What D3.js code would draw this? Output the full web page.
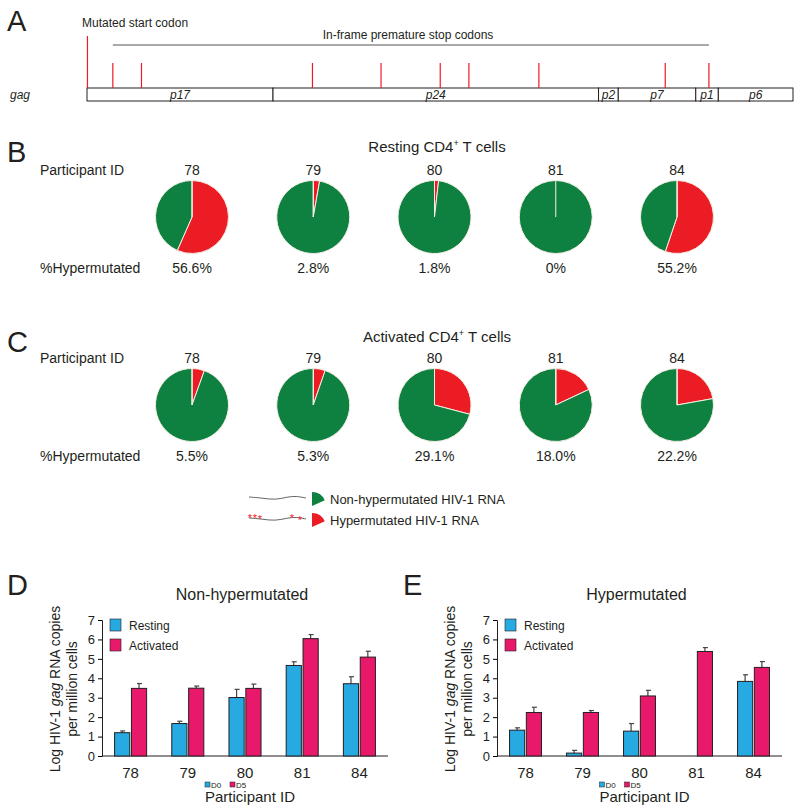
<!DOCTYPE html>
<html><head><meta charset="utf-8">
<script src="https://cdn.jsdelivr.net/npm/d3@7"></script>
<style>
body{margin:0;background:#fff}
text{font-family:"Liberation Sans",Arial,Helvetica,sans-serif;fill:#231f20}
</style>
</head><body><svg id="c" width="800" height="806"></svg>
<script>
// ---------- data ----------
const participants = ["78","79","80","81","84"];
const restingHyperPct = [56.6, 2.8, 1.8, 0, 55.2];
const activatedHyperPct = [5.5, 5.3, 29.1, 18.0, 22.2];
const gagProteins = ["p17","p24","p2","p7","p1","p6"];
const gagProteinEnds = [396, 1089, 1131, 1296, 1344, 1503];
const startCodonPos = [1];
const stopCodonPos = [55, 116, 480, 626, 752, 813, 962, 1231, 1324];
const nonHypRest = [1.2, 1.67, 3.01, 4.66, 3.72];
const nonHypRestErr = [0.09, 0.12, 0.42, 0.19, 0.36];
const nonHypAct = [3.48, 3.49, 3.48, 6.04, 5.09];
const nonHypActErr = [0.25, 0.11, 0.22, 0.21, 0.30];
const hypRest = [1.33, 0.15, 1.28, 0, 3.84];
const hypRestErr = [0.12, 0.14, 0.39, 0, 0.34];
const hypAct = [2.24, 2.24, 3.09, 5.38, 4.56];
const hypActErr = [0.27, 0.10, 0.29, 0.20, 0.30];
const yTicks = [0,1,2,3,4,5,6,7];
const barSeries = ["Resting","Activated"];

const GREEN = "#0e8040", RED = "#ec1c24", BLUE = "#27a9e1", PINK = "#e8196b";
const svg = d3.select("#c");

function letter(t, x, y){
  svg.append("text").attr("x",x).attr("y",y).attr("font-size",29).text(t);
}

// ---------- Panel A ----------
letter("A", 7, 31);
const gx = d3.scaleLinear().domain([0, 1503]).range([87, 793]);
const boxTop = 88, boxH = 13;
svg.append("text").attr("x",10).attr("y",boxTop+11).attr("font-size",12).attr("font-style","italic").text("gag");
const starts = [0].concat(gagProteinEnds.slice(0,-1));
gagProteins.forEach((p,i)=>{
  svg.append("rect").attr("x",gx(starts[i])).attr("y",boxTop).attr("width",gx(gagProteinEnds[i])-gx(starts[i])).attr("height",boxH)
    .attr("fill","#fff").attr("stroke","#231f20").attr("stroke-width",1);
  svg.append("text").attr("x",(gx(starts[i])+gx(gagProteinEnds[i]))/2).attr("y",boxTop+11).attr("text-anchor","middle")
    .attr("font-size",12).attr("font-style","italic").text(p);
});
startCodonPos.forEach(p=>{
  svg.append("line").attr("x1",gx(p)).attr("x2",gx(p)).attr("y1",36).attr("y2",boxTop).attr("stroke",RED).attr("stroke-width",1.2);
});
stopCodonPos.forEach(p=>{
  svg.append("line").attr("x1",gx(p)).attr("x2",gx(p)).attr("y1",63).attr("y2",boxTop).attr("stroke",RED).attr("stroke-width",1.2);
});
svg.append("text").attr("x",82).attr("y",27).attr("font-size",12).text("Mutated start codon");
svg.append("line").attr("x1",gx(stopCodonPos[0])).attr("x2",gx(stopCodonPos[stopCodonPos.length-1])).attr("y1",45).attr("y2",45)
  .attr("stroke","#555").attr("stroke-width",1);
svg.append("text").attr("x",408).attr("y",39).attr("text-anchor","middle").attr("font-size",12).text("In-frame premature stop codons");

// ---------- Panels B, C (pies) ----------
const px = d3.scalePoint().domain(participants).range([192, 677]);
const pie = d3.pie().sort(null).value(d=>d);
const R = 36.5;
const arc = d3.arc().innerRadius(0).outerRadius(R);
function fmtPct(v){ return v===0 ? "0%" : v.toFixed(1)+"%"; }
function pieRow(title, vals, titleY, cy){
  const t = svg.append("text").attr("x",437).attr("y",titleY).attr("text-anchor","middle").attr("font-size",15);
  t.append("tspan").text(title[0]);
  t.append("tspan").attr("font-size",9).attr("dy",-6).text("+");
  t.append("tspan").attr("dy",6).text(title[1]);
  svg.append("text").attr("x",40).attr("y",cy-42).attr("font-size",14).text("Participant ID");
  svg.append("text").attr("x",40).attr("y",cy+56).attr("font-size",14).text("%Hypermutated");
  participants.forEach((p,i)=>{
    const g = svg.append("g").attr("transform",`translate(${px(p)},${cy})`);
    g.selectAll("path").data(pie([vals[i], 100-vals[i]])).join("path")
      .attr("d",arc).attr("fill",(d,j)=>j===0?RED:GREEN).attr("stroke","#f4efe6").attr("stroke-width",1);
    g.append("line").attr("x1",0).attr("y1",0).attr("x2",0).attr("y2",-R).attr("stroke","#f4efe6").attr("stroke-width",1);
    svg.append("text").attr("x",px(p)).attr("y",cy-42).attr("text-anchor","middle").attr("font-size",14).text(p);
    svg.append("text").attr("x",px(p)).attr("y",cy+56).attr("text-anchor","middle").attr("font-size",14).text(fmtPct(vals[i]));
  });
}
letter("B", 7, 162);
pieRow(["Resting CD4"," T cells"], restingHyperPct, 152, 217);
letter("C", 7, 352);
pieRow(["Activated CD4"," T cells"], activatedHyperPct, 342, 405);

// ---------- pie legend ----------
const wave = d3.line().curve(d3.curveBasis);
function waveAt(y, col){
  svg.append("path").attr("d", wave([[249,y-1],[262,y],[275,y+2],[287,y-1],[296,y-2],[306,y]]))
    .attr("fill","none").attr("stroke",col).attr("stroke-width",0.9);
}
waveAt(498, "#555");
waveAt(519, "#555");
[[250,516],[255,516],[260,517],[292,516],[300,518]].forEach(s=>{
  svg.append("text").attr("x",s[0]).attr("y",s[1]+6).attr("text-anchor","middle").attr("font-size",11).style("fill",RED).text("*");
});
const wedge = d3.arc().innerRadius(0).outerRadius(14).startAngle(0).endAngle(1.15);
svg.append("path").attr("d",wedge).attr("transform","translate(312,506)").attr("fill",GREEN);
svg.append("path").attr("d",wedge).attr("transform","translate(312,527)").attr("fill",RED);
svg.append("text").attr("x",330).attr("y",504).attr("font-size",13).text("Non-hypermutated HIV-1 RNA");
svg.append("text").attr("x",330).attr("y",525).attr("font-size",13).text("Hypermutated HIV-1 RNA");

// ---------- Panels D, E (bars) ----------
function barChart(x0, x1, title, rest, restErr, act, actErr){
  const y = d3.scaleLinear().domain([0,7]).range([756, 620]);
  const x = d3.scaleBand().domain(participants).range([x0, x1]).paddingInner(0.44).paddingOuter(0.22);
  const xs = d3.scaleBand().domain(barSeries).range([0, x.bandwidth()]).paddingInner(0.1);
  const g = svg.append("g");
  g.append("text").attr("x",(x0+x1)/2-3).attr("y",600).attr("text-anchor","middle").attr("font-size",16).text(title);
  const ya = g.append("g").attr("transform",`translate(${x0},0)`)
    .call(d3.axisLeft(y).tickValues(yTicks).tickSize(4).tickPadding(3).tickFormat(d3.format("d")));
  ya.select(".domain").attr("stroke","#231f20");
  ya.selectAll("text").attr("font-size",13).style("fill","#231f20");
  g.append("line").attr("x1",x0).attr("x2",x1).attr("y1",y(0)).attr("y2",y(0)).attr("stroke","#231f20");
  participants.forEach(p=>{
    g.append("text").attr("x",x(p)+x.bandwidth()/2).attr("y",778).attr("text-anchor","middle").attr("font-size",15).text(p);
  });
  const series = [[rest,restErr,BLUE,"Resting"],[act,actErr,PINK,"Activated"]];
  series.forEach(([vals,errs,col,name])=>{
    participants.forEach((p,i)=>{
      if (vals[i] <= 0) return;
      const bx = x(p)+xs(name), bw = xs.bandwidth();
      const cx = bx + bw/2;
      g.append("line").attr("x1",cx).attr("x2",cx).attr("y1",y(vals[i])).attr("y2",y(vals[i]+errs[i])).attr("stroke","#444").attr("stroke-width",1.2);
      g.append("line").attr("x1",cx-2).attr("x2",cx+3).attr("y1",y(vals[i]+errs[i])).attr("y2",y(vals[i]+errs[i])).attr("stroke","#444").attr("stroke-width",1.2);
      g.append("rect").attr("x",bx).attr("y",y(vals[i])).attr("width",bw).attr("height",y(0)-y(vals[i]))
        .attr("fill",col).attr("stroke","#231f20").attr("stroke-width",1);
    });
  });
  series.forEach(([v,e,col,name],k)=>{
    g.append("rect").attr("x",x0+8).attr("y",619+k*20).attr("width",11).attr("height",12).attr("fill",col).attr("stroke","#231f20").attr("stroke-width",0.6);
    g.append("text").attr("x",x0+27).attr("y",630+k*20).attr("font-size",12).text(name);
  });
  const ly = 689;
  const t1 = g.append("text").attr("transform",`translate(${x0-42},${ly}) rotate(-90)`).attr("text-anchor","middle").attr("font-size",14);
  t1.append("tspan").text("Log HIV-1 ");
  t1.append("tspan").attr("font-style","italic").text("gag");
  t1.append("tspan").text(" RNA copies");
  g.append("text").attr("transform",`translate(${x0-25},${ly}) rotate(-90)`).attr("text-anchor","middle").attr("font-size",14).text("per million cells");
  const mid = (x0+x1)/2;
  g.append("text").attr("x",mid+5).attr("y",802).attr("text-anchor","middle").attr("font-size",15).text("Participant ID");
  [["D0",BLUE],["D5",PINK]].forEach((d,k)=>{
    g.append("rect").attr("x",mid-40+k*25).attr("y",782).attr("width",5).attr("height",5).attr("fill",d[1]).attr("stroke","#231f20").attr("stroke-width",0.5);
    g.append("text").attr("x",mid-34+k*25).attr("y",787.5).attr("font-size",8).text(d[0]);
  });
}
letter("D", 7, 595);
barChart(102, 388, "Non-hypermutated", nonHypRest, nonHypRestErr, nonHypAct, nonHypActErr);
letter("E", 403, 595);
barChart(497, 782, "Hypermutated", hypRest, hypRestErr, hypAct, hypActErr);
</script></body></html>
